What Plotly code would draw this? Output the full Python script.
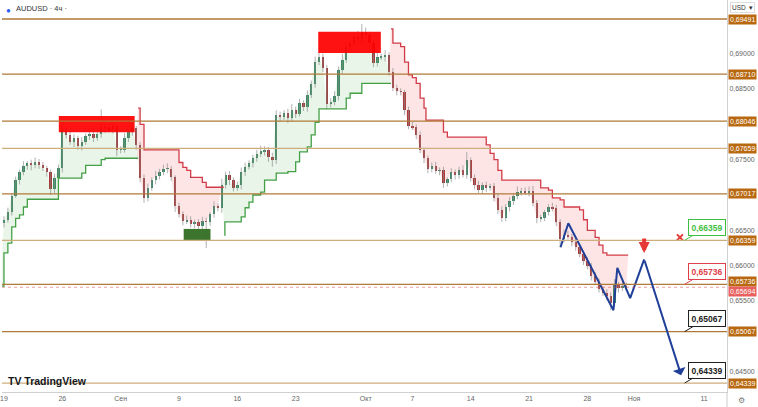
import plotly.graph_objects as go

# ---------------- data ----------------
BARS_PER_DAY = 3  # 8h candles, weekends skipped

close_pips = [
    6665, 6676, 6699, 6721, 6732, 6741, 6745, 6742, 6747, 6742,
    6738, 6732, 6708, 6724, 6738, 6792, 6785, 6775, 6781, 6769,
    6775, 6783, 6786, 6781, 6786, 6796, 6795, 6793, 6797, 6764,
    6764, 6781, 6789, 6795, 6771, 6724, 6696, 6710, 6721, 6727,
    6732, 6737, 6737, 6725, 6684, 6673, 6663, 6665, 6659, 6662,
    6656, 6663, 6662, 6673, 6684, 6681, 6714, 6728, 6721, 6710,
    6714, 6732, 6740, 6745, 6752, 6758, 6762, 6764, 6754, 6749,
    6813, 6810, 6816, 6809, 6820, 6815, 6830, 6824, 6841, 6857,
    6888, 6895, 6880, 6829, 6831, 6840, 6877, 6891, 6909, 6915,
    6924, 6921, 6931, 6926, 6915, 6887, 6895, 6895, 6898, 6874,
    6851, 6847, 6846, 6820, 6798, 6796, 6785, 6764, 6752, 6737,
    6741, 6734, 6735, 6717, 6722, 6732, 6728, 6735, 6729, 6749,
    6724, 6714, 6707, 6714, 6710, 6713, 6696, 6679, 6667, 6683,
    6691, 6698, 6704, 6706, 6704, 6706, 6689, 6667, 6667, 6676,
    6683, 6681, 6662, 6638, 6644, 6641, 6633, 6626, 6616, 6607,
    6600, 6585, 6577, 6567, 6561, 6557, 6547, 6573, 6568, 6571,
    6569,
]
first_open_pips = 6660

wick_up = [
    5, 6, 4, 5, 4, 7, 3, 5, 6, 4,
    5, 3, 4, 6, 5, 8, 4, 6, 5, 3,
    7, 4, 5, 8, 6, 25, 5, 4, 6, 3,
    5, 7, 4, 6, 3, 4, 5, 6, 4, 7,
    5, 6, 8, 4, 3, 5, 4, 6, 5, 3,
    4, 6, 5, 3, 7, 4, 9, 5, 6, 4,
    5, 7, 6, 4, 5, 6, 8, 5, 4, 6,
    7, 5, 4, 6, 9, 5, 6, 4, 7, 5,
    8, 6, 5, 4, 6, 7, 5, 9, 6, 4,
    5, 8, 11, 6, 5, 4, 6, 5, 7, 4,
    6, 5, 4, 3, 5, 6, 4, 5, 3, 4,
    5, 6, 4, 5, 3, 6, 4, 5, 7, 12,
    4, 5, 6, 4, 5, 3, 4, 6, 5, 4,
    6, 5, 8, 4, 5, 6, 7, 4, 5, 3,
    4, 6, 5, 4, 7, 5, 4, 6, 5, 3,
    5, 4, 6, 5, 4, 6, 5, 8, 4, 6,
    5,
]
wick_dn = [
    6, 4, 5, 3, 6, 4, 5, 7, 4, 5,
    4, 6, 8, 5, 4, 6, 5, 4, 7, 5,
    6, 4, 5, 6, 4, 5, 7, 4, 6, 9,
    5, 4, 6, 5, 7, 6, 7, 5, 4, 6,
    5, 4, 6, 5, 8, 5, 6, 4, 5, 6,
    4, 5, 37, 6, 5, 4, 6, 5, 7, 5,
    4, 6, 5, 4, 6, 5, 4, 6, 7, 9,
    5, 6, 4, 7, 5, 6, 4, 5, 6, 4,
    5, 4, 6, 8, 5, 4, 6, 5, 4, 6,
    5, 4, 6, 5, 7, 6, 5, 4, 6, 5,
    4, 6, 5, 7, 5, 4, 6, 5, 7, 6,
    5, 4, 6, 7, 5, 4, 6, 5, 4, 6,
    5, 6, 4, 5, 6, 4, 5, 6, 5, 4,
    6, 5, 4, 5, 4, 6, 5, 7, 5, 4,
    5, 4, 6, 12, 5, 4, 6, 5, 4, 6,
    5, 6, 4, 5, 4, 6, 10, 5, 6, 4,
    5,
]

# trailing-stop indicator (x in bars, value in pips)
trail_green1_x = [-1, 0, 1, 2, 3, 4, 5, 6, 14, 20, 21, 25, 26, 34.5]
trail_green1 = [6571, 6618, 6632, 6655, 6667, 6672, 6683, 6694, 6724, 6731, 6742, 6750, 6752, 6752]
trail_red1_x = [34.5, 35, 36, 45, 46, 47, 48, 51, 52, 56.5]
trail_red1 = [6823, 6800, 6764, 6746, 6739, 6735, 6725, 6718, 6711, 6711]
trail_green2_x = [56.7, 56.8, 61, 62, 63, 64, 66, 67, 70, 73, 75, 76, 78, 79, 80, 81, 88, 89, 92, 99.5]
trail_green2 = [6643, 6662, 6669, 6682, 6690, 6700, 6704, 6721, 6731, 6733, 6747, 6761, 6768, 6785, 6803, 6822, 6837, 6844, 6858, 6858]
trail_red2_x = [99.5, 100, 102, 103, 104, 105, 106, 107, 108, 108.5, 113, 114, 124, 125, 126, 127, 128, 138, 140, 141,
                143, 144, 148, 149, 150, 152, 153, 154, 155, 160.5]
trail_red2 = [6935, 6915, 6910, 6888, 6870, 6866, 6858, 6837, 6823, 6806, 6789, 6782, 6771, 6759, 6750, 6735, 6721, 6710, 6707, 6696,
              6693, 6683, 6679, 6665, 6650, 6640, 6629, 6618, 6615, 6615]
trail_segments = [
    ("up", trail_green1_x, trail_green1, 0, 34),
    ("down", trail_red1_x, trail_red1, 34, 56),
    ("up", trail_green2_x, trail_green2, 56, 99),
    ("down", trail_red2_x, trail_red2, 99, 160),
]

# supply / demand zones
zone_x0 = [14.1, 80.8, 46.2]
zone_x1 = [33.6, 96.9, 53.1]
zone_lo = [0.6789, 0.6901, 0.6636]
zone_hi = [0.6812, 0.6931, 0.6652]
zone_kind = ["supply", "supply", "demand"]

# horizontal levels
levels = [0.69491, 0.68710, 0.68046, 0.67659, 0.67017, 0.66359, 0.65736, 0.65067, 0.64339]
level_tone = ["dark", "dark", "dark", "light", "dark", "light", "dark", "dark", "light"]
last_price = 0.65694

# projected path
zig_x = [143.1, 145.1, 156.7, 157.7, 161.0, 164.6]
zig_y = [0.6626, 0.6660, 0.6537, 0.6597, 0.6554, 0.6609]
target_x, target_y = 174.1, 0.6445
sell_arrow_tip = (164.6, 0.6618)
cancel_mark = (173.8, 0.6640)

# callouts
callout_levels = [0.66359, 0.65736, 0.65067, 0.64339]
callout_text = ["0,66359", "0,65736", "0,65067", "0,64339"]
callout_color = ["#3fbf3f", "#e0404a", "#222222", "#222222"]
callout_x = 175

# x axis: trading-day ticks
tick_day = [0, 5, 10, 15, 20, 25, 31, 35, 40, 45, 50, 54, 60]
tick_text = ["19", "26", "Сен", "9", "16", "23", "Окт", "7", "14", "21", "28", "Ноя", "11"]
# visible price-scale ticks (others are hidden behind level labels)
ytick_vals = [0.645, 0.655, 0.660, 0.665, 0.675, 0.685, 0.690]

# ---------------- build ----------------
P = 1e-4
n = len(close_pips)
opens = [first_open_pips] + close_pips[:-1]
closes = close_pips
highs = [max(o, c) + u for o, c, u in zip(opens, closes, wick_up)]
lows = [min(o, c) - d for o, c, d in zip(opens, closes, wick_dn)]
xs = list(range(n))

fig = go.Figure()

def hv_expand(px, py):
    ox, oy = [], []
    for k in range(len(px)):
        if k > 0:
            ox.append(px[k]); oy.append(py[k - 1])
        ox.append(px[k]); oy.append(py[k])
    return ox, oy

# fills
for kind, tx, ty, b0, b1 in trail_segments:
    sx, sy = hv_expand(tx, [v * P for v in ty])
    cx = list(range(b1, b0 - 1, -1))
    cy = [closes[i] * P for i in cx]
    fig.add_trace(go.Scatter(
        x=sx + cx, y=sy + cy, fill="toself", mode="lines", line=dict(width=0),
        fillcolor="rgba(76,175,80,0.13)" if kind == "up" else "rgba(242,80,90,0.15)",
        hoverinfo="skip"))

# wicks
wx, wy = [], []
for i in xs:
    wx += [i, i, None]
    wy += [lows[i] * P, highs[i] * P, None]
fig.add_trace(go.Scatter(x=wx, y=wy, mode="lines",
                         line=dict(color="rgba(135,135,135,0.65)", width=1), hoverinfo="skip"))

# bodies
base = [min(o, c) * P for o, c in zip(opens, closes)]
height = [max(abs(c - o), 0.6) * P for o, c in zip(opens, closes)]
colors = ["#3a8a66" if c >= o else "#a53a3a" for o, c in zip(opens, closes)]
fig.add_trace(go.Bar(x=xs, y=height, base=base, width=0.6, marker=dict(color=colors, line=dict(width=0)),
                     hoverinfo="skip"))

# trailing lines
for kind, tx, ty, b0, b1 in trail_segments:
    fig.add_trace(go.Scatter(x=tx, y=[v * P for v in ty], mode="lines", line_shape="hv",
                             line=dict(color="#43a047" if kind == "up" else "#d23c48", width=1.3),
                             hoverinfo="skip"))

# zigzag projection
fig.add_trace(go.Scatter(x=zig_x, y=zig_y, mode="lines", line=dict(color="#1f3f98", width=2),
                         hoverinfo="skip"))
fig.add_annotation(x=target_x, y=target_y, ax=zig_x[-1], ay=zig_y[-1], axref="x", ayref="y",
                   showarrow=True, arrowhead=1, arrowsize=1.1, arrowwidth=2, arrowcolor="#1f3f98", text="")

# cancel mark
fig.add_trace(go.Scatter(x=[cancel_mark[0]], y=[cancel_mark[1]], mode="markers",
                         marker=dict(symbol="x-thin", size=6, line=dict(width=2, color="#e53935")),
                         hoverinfo="skip"))
# sell arrow
fig.add_annotation(x=sell_arrow_tip[0], y=sell_arrow_tip[1], ax=0, ay=-16, showarrow=True,
                   arrowhead=2, arrowsize=0.55, arrowwidth=4, arrowcolor="#e53935", text="")

# zones
for x0, x1, lo, hi, k in zip(zone_x0, zone_x1, zone_lo, zone_hi, zone_kind):
    fig.add_shape(type="rect", x0=x0, x1=x1, y0=lo, y1=hi, layer="above",
                  fillcolor="#ff0000" if k == "supply" else "#2e6b1e", opacity=0.93, line=dict(width=0))

# levels
for lv, tone in zip(levels, level_tone):
    fig.add_shape(type="line", xref="paper", x0=0, x1=1, y0=lv, y1=lv, layer="above",
                  line=dict(color="#b07a36" if tone == "dark" else "#cfae7e", width=1.3))
    fig.add_annotation(xref="paper", x=1, xanchor="left", xshift=1, y=lv, yref="y",
                       yshift=3 if abs(lv - last_price) < 0.001 else 0,
                       text=("%.5f" % lv).replace(".", ","),
                       showarrow=False, font=dict(size=7, color="white", family="Liberation Sans"),
                       bgcolor="#b8680f", borderpad=1)
fig.add_shape(type="line", xref="paper", x0=0, x1=1, y0=last_price, y1=last_price, layer="above",
              line=dict(color="rgba(220,80,80,0.55)", width=1, dash="dot"))
fig.add_annotation(xref="paper", x=1, xanchor="left", xshift=1, y=last_price, yshift=-4, yref="y",
                   text=("%.5f" % last_price).replace(".", ","), showarrow=False,
                   font=dict(size=7, color="white", family="Liberation Sans"), bgcolor="#e8605e", borderpad=1)

# callouts
for lv, t, col in zip(callout_levels, callout_text, callout_color):
    fig.add_annotation(x=callout_x, y=lv, ax=22, ay=-13, text="<b>%s</b>" % t, showarrow=True,
                       arrowhead=0, arrowwidth=1, arrowcolor=col,
                       font=dict(size=8.5, color=col, family="Liberation Sans"),
                       bgcolor="white", bordercolor=col, borderwidth=1, borderpad=2.5)

# header / footer
fig.add_annotation(xref="paper", yref="paper", x=0, y=1, xanchor="left", yanchor="top", xshift=12, yshift=-2,
                   text="AUDUSD · 4ч ·", showarrow=False, font=dict(size=7.5, color="#333", family="Liberation Sans"))
fig.add_annotation(xref="paper", yref="paper", x=0, y=1, xanchor="left", yanchor="top", xshift=2, yshift=-2,
                   text="●", showarrow=False, font=dict(size=8, color="#2962ff"))
fig.add_annotation(xref="paper", yref="paper", x=0, y=0, xanchor="left", yanchor="bottom", xshift=4, yshift=3,
                   text="<b>TV</b> <b>TradingView</b>", showarrow=False,
                   font=dict(size=10.5, color="#131722", family="Liberation Sans"))
fig.add_annotation(xref="paper", yref="paper", x=1, y=1, xanchor="left", yanchor="top", xshift=3, yshift=-2,
                   text="USD  ▾", showarrow=False, font=dict(size=6.5, color="#333", family="Liberation Sans"),
                   bordercolor="#ddd", borderwidth=1, borderpad=1)
fig.add_annotation(xref="paper", yref="paper", x=1, y=0, xanchor="left", yanchor="top", xshift=9, yshift=0,
                   text="⚙", showarrow=False, font=dict(size=8, color="#777"))
fig.add_shape(type="line", xref="paper", yref="paper", x0=1, x1=1, y0=-0.04, y1=0,
              line=dict(color="#ccc", width=1))

x_range = [-0.51, 185.9]
fig.update_layout(
    width=758, height=407, margin=dict(l=0, r=31, t=0, b=15),
    plot_bgcolor="white", paper_bgcolor="white", showlegend=False,
    separators=", ", bargap=0,
    xaxis=dict(range=x_range, tickvals=[d * BARS_PER_DAY for d in tick_day], ticktext=tick_text,
               showgrid=False, zeroline=False, showline=True, linecolor="#d0d0d0", ticks="",
               ticklabeloverflow="allow",
               tickfont=dict(size=7, color="#666", family="Liberation Sans"), fixedrange=True),
    yaxis=dict(range=[0.64212, 0.69760], side="right", tickvals=ytick_vals, tickformat=".5f",
               showgrid=False, zeroline=False, showline=True, linecolor="#d0d0d0", ticks="",
               tickfont=dict(size=7, color="#666", family="Liberation Sans"), fixedrange=True),
)

fig.write_html("out.html", config={"displayModeBar": False},
               post_script="document.body.style.margin='0';document.body.style.overflow='hidden';")
